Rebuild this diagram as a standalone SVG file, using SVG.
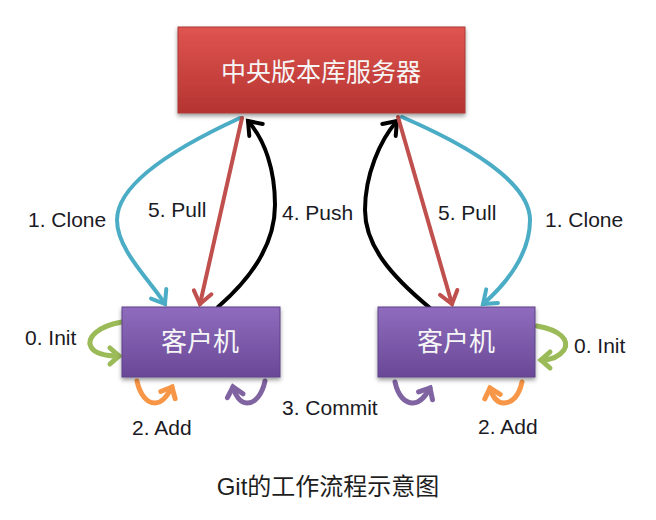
<svg xmlns="http://www.w3.org/2000/svg" width="656" height="520" viewBox="0 0 656 520">
<defs>
<style>
.lbl{font-family:"Liberation Sans","Noto Sans",sans-serif;font-size:21px;fill:#1a1a24;}
.box-t{font-family:"Noto Sans CJK SC","Noto Sans",sans-serif;fill:#f6f6f6;text-anchor:middle;}
.cap{font-family:"Liberation Sans","Noto Sans CJK SC",sans-serif;font-size:24px;fill:#1e1e1e;text-anchor:middle;}
.big{fill:none;stroke-width:4;stroke-linecap:round;}
.small{fill:none;stroke-width:5;stroke-linecap:round;}
.chev{fill:none;stroke-linecap:round;stroke-linejoin:miter;}
</style>
<linearGradient id="gRed" x1="0" y1="0" x2="0" y2="1">
<stop offset="0" stop-color="#e0544f"/>
<stop offset="1" stop-color="#b53431"/>
</linearGradient>
<linearGradient id="gPur" x1="0" y1="0" x2="0" y2="1">
<stop offset="0" stop-color="#8f6cbd"/>
<stop offset="1" stop-color="#6a4897"/>
</linearGradient>
<filter id="sh" x="-10%" y="-10%" width="120%" height="130%">
<feDropShadow dx="0" dy="2.5" stdDeviation="2" flood-color="#000" flood-opacity="0.4"/>
</filter>
<marker id="mCyan" markerUnits="userSpaceOnUse" viewBox="-16 -16 20 32" markerWidth="20" markerHeight="32" refX="0" refY="0" orient="auto"><path class="chev" d="M-12,-9 L0,0 L-12,9" stroke="#4bacc6" stroke-width="4"/></marker>
<marker id="mRed" markerUnits="userSpaceOnUse" viewBox="-16 -16 20 32" markerWidth="20" markerHeight="32" refX="0" refY="0" orient="auto"><path class="chev" d="M-12,-9 L0,0 L-12,9" stroke="#c0504d" stroke-width="4"/></marker>
<marker id="mBlack" markerUnits="userSpaceOnUse" viewBox="-16 -16 20 32" markerWidth="20" markerHeight="32" refX="0" refY="0" orient="auto"><path class="chev" d="M-12,-9 L0,0 L-12,9" stroke="#000" stroke-width="4"/></marker>
<marker id="mGreen" markerUnits="userSpaceOnUse" viewBox="-14 -14 18 28" markerWidth="18" markerHeight="28" refX="0" refY="0" orient="auto"><path class="chev" d="M-9,-8 L0,0 L-9,8" stroke="#9bbb59" stroke-width="5"/></marker>
<marker id="mOrange" markerUnits="userSpaceOnUse" viewBox="-14 -14 18 28" markerWidth="18" markerHeight="28" refX="0" refY="0" orient="auto"><path class="chev" d="M-9,-8 L0,0 L-9,8" stroke="#f79646" stroke-width="5"/></marker>
<marker id="mPurple" markerUnits="userSpaceOnUse" viewBox="-14 -14 18 28" markerWidth="18" markerHeight="28" refX="0" refY="0" orient="auto"><path class="chev" d="M-9,-8 L0,0 L-9,8" stroke="#8064a2" stroke-width="5"/></marker>
</defs>
<rect width="656" height="520" fill="#ffffff"/>

<g id="connectors">
<path class="big" stroke="#4bacc6" d="M240,118 C170,150 117,185 117,220 C117,250 150,280 165,304" marker-end="url(#mCyan)"/>
<path class="big" stroke="#c0504d" d="M242,118 L200,304" marker-end="url(#mRed)"/>
<path class="big" stroke="#000" d="M218,307 C255,275 275,240 275,205 C275,170 265,140 248,121" marker-end="url(#mBlack)"/>
<path class="big" stroke="#000" d="M430,308 C390,275 365,245 365,210 C365,175 380,140 397,121" marker-end="url(#mBlack)"/>
<path class="big" stroke="#c0504d" d="M398,117 L452,304" marker-end="url(#mRed)"/>
<path class="big" stroke="#4bacc6" d="M402,117 C460,142 530,180 530,220 C530,255 505,285 483,304" marker-end="url(#mCyan)"/>
<path class="small" stroke="#9bbb59" d="M122,322 C98,326 86,338 91,347 C95,354 107,356 119,356" marker-end="url(#mGreen)"/>
<path class="small" stroke="#9bbb59" d="M537,326 C560,330 570,340 564,350 C559,357 550,360 541,360" marker-end="url(#mGreen)"/>
<path class="small" stroke="#f79646" d="M137,381 C140,395 147,403 155,403 C163,403 168,395 172,387" marker-end="url(#mOrange)"/>
<path class="small" stroke="#8064a2" d="M265,381 C262,395 255,403 247,403 C240,403 235,395 233,387" marker-end="url(#mPurple)"/>
<path class="small" stroke="#8064a2" d="M395,382 C398,396 405,403 413,403 C421,403 426,395 430,388" marker-end="url(#mPurple)"/>
<path class="small" stroke="#f79646" d="M522,382 C519,396 512,403 504,403 C496,403 492,395 490,388" marker-end="url(#mOrange)"/>
</g>

<g id="server">
<rect x="178" y="27" width="287" height="86" fill="url(#gRed)" stroke="#a83a37" stroke-width="1" filter="url(#sh)"/>
<text class="box-t" x="321" y="81" font-size="25">中央版本库服务器</text>
</g>
<g id="client-left">
<rect x="122" y="307" width="158" height="70" fill="url(#gPur)" stroke="#5f4289" stroke-width="1" filter="url(#sh)"/>
<text class="box-t" x="200" y="351" font-size="26">客户机</text>
</g>
<g id="client-right">
<rect x="378" y="307" width="157" height="70" fill="url(#gPur)" stroke="#5f4289" stroke-width="1" filter="url(#sh)"/>
<text class="box-t" x="456" y="351" font-size="26">客户机</text>
</g>

<g id="labels">
<text class="lbl" x="28" y="227">1. Clone</text>
<text class="lbl" x="148" y="217">5. Pull</text>
<text class="lbl" x="282" y="220">4. Push</text>
<text class="lbl" x="438" y="220">5. Pull</text>
<text class="lbl" x="545" y="227">1. Clone</text>
<text class="lbl" x="25" y="345">0. Init</text>
<text class="lbl" x="574" y="353">0. Init</text>
<text class="lbl" x="132" y="435">2. Add</text>
<text class="lbl" x="282" y="415">3. Commit</text>
<text class="lbl" x="478" y="434">2. Add</text>
</g>

<g id="caption">
<text class="cap" x="328" y="495">Git的工作流程示意图</text>
</g>
</svg>
